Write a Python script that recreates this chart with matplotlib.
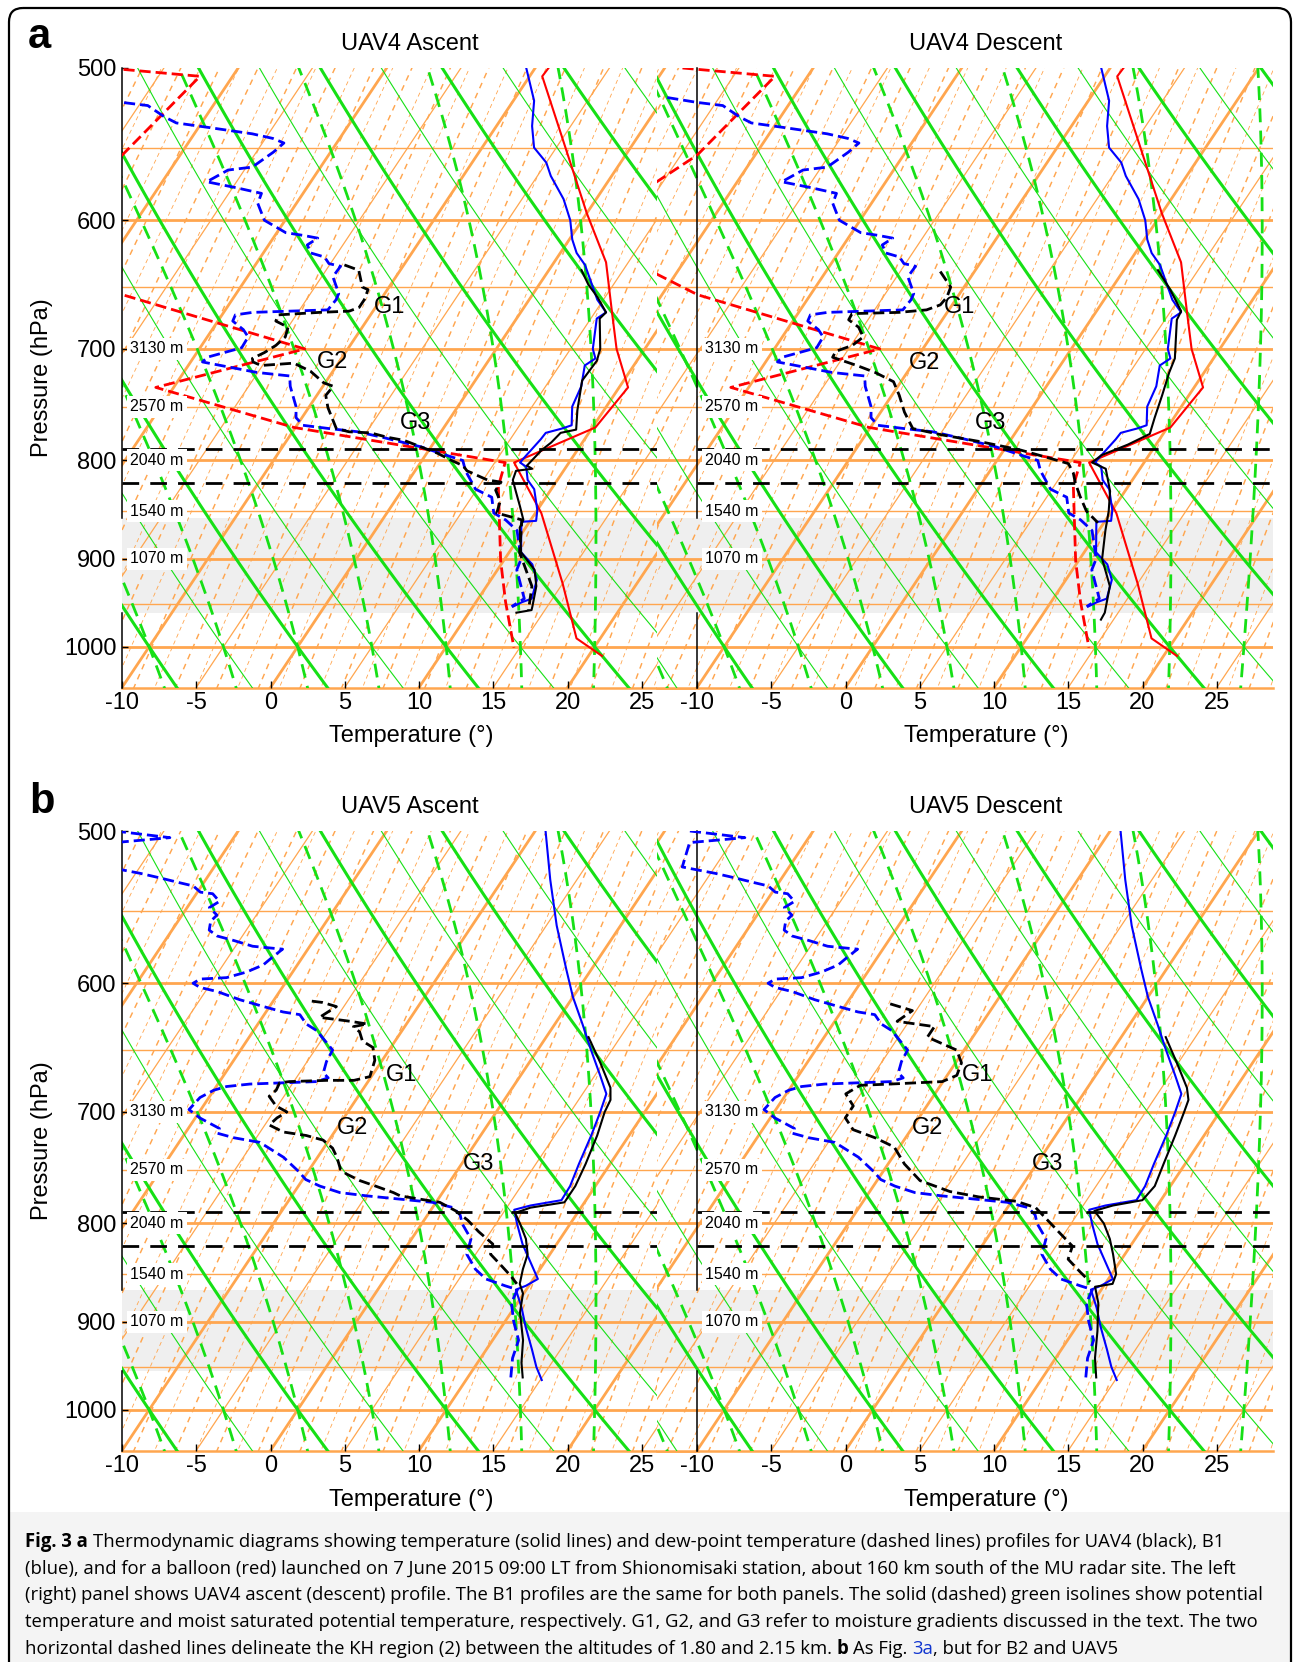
import numpy as np
import matplotlib
matplotlib.use("Agg")
import matplotlib.pyplot as plt
from matplotlib.patches import FancyBboxPatch, Rectangle

plt.rcParams['font.family'] = ['Liberation Sans', 'DejaVu Sans']

# ---------------------------------------------------------------- data
# pressure (hPa) / temperature (deg C) profiles
# B1 balloon (blue) - both UAV4 panels
b1_p = [500, 520, 536, 550, 560, 569, 585, 600, 614, 624, 633, 660, 670, 675, 700, 708, 714, 732, 750, 767,
        770, 774, 780, 795, 802, 806, 819, 828, 849, 860, 861, 893, 906, 923, 944, 948, 953]
b1_t = [-10.6, -8.6, -7.6, -6.5, -5.0, -4.1, -2.2, -0.8, 0.2, 1.1, 2.2, 4.6, 5.75, 5.4, 6.5, 7.1, 6.7, 7.4, 7.7, 8.5,
        8.0, 7.1, 7.05, 6.8, 6.7, 7.3, 8.0, 8.85, 10.0, 10.4, 9.45, 10.8, 12.1, 13.1, 13.6, 13.1, 12.7]
b1_td_p = [518, 521, 523, 530, 534, 537, 541, 544, 547, 553, 563, 565, 573, 577, 581, 588, 600, 609, 611, 613,
           618, 624, 627, 632, 634, 642, 655, 660, 668, 670, 672, 677, 684, 690, 699, 707, 711, 720, 723, 732,
           750, 760, 767, 770, 773, 779, 787, 795, 800, 810, 828, 836, 852, 859, 870, 900, 912, 944, 953]
b1_td = [-38.5, -36.3, -34.4, -32.8, -31.7, -29.25, -26.1, -24.5, -23.55, -23.85, -24.6, -26.1, -27.0, -24.8, -22.8,
         -22.6, -21.4, -19.4, -18.1, -17.0, -17.4, -16.8, -15.7, -15.1, -14.2, -14.25, -13.1, -13.0, -13.1, -18.05,
         -19.1, -19.0, -17.9, -17.25, -17.2, -19.1, -19.2, -15.05, -12.7, -12.2, -10.9, -10.4, -9.6, -7.7, -5.6,
         -3.4, -0.7, 1.4, 2.75, 3.4, 4.9, 6.35, 7.2, 8.3, 9.55, 11.1, 11.3, 13.1, 12.6]

# Shionomisaki balloon (red) - both UAV4 panels
sh_p = [500, 505, 595, 631, 670, 700, 733, 769, 802, 852, 927, 990, 1011]
sh_t = [-9.1, -9.15, 0.0, 3.5, 6.15, 8.1, 10.6, 10.2, 6.3, 10.4, 15.0, 18.4, 20.9]
sh_td_p = [500, 505, 555, 610, 656, 700, 733, 769, 802, 825, 902, 948, 1001]
sh_td = [-38.8, -32.2, -33.9, -38.4, -27.6, -12.9, -21.2, -10.1, 5.7, 6.3, 9.8, 12.0, 14.6]

# UAV4 ascent (black)
uav4a_p = [637, 648, 658, 670, 675, 700, 710, 727, 753, 771, 774, 783, 790, 800, 805, 808, 810, 819, 830, 845,
           859, 867, 893, 912, 930, 953, 957, 960]
uav4a_t = [2.2, 3.3, 4.5, 5.75, 5.6, 7.0, 7.3, 7.2, 8.2, 9.0, 8.1, 7.9, 7.6, 7.4, 7.3, 7.8, 6.8, 7.0, 7.7, 8.65,
           9.5, 9.6, 10.8, 12.5, 13.35, 14.0, 14.1, 13.2]
uav4a_td_p = [633, 637, 650, 652, 660, 666, 669, 670, 672, 677, 682, 690, 697, 703, 708, 711, 714, 712, 719, 729,
              732, 740, 751, 770, 773, 774, 778, 781, 787, 793, 800, 805, 810, 819, 821, 829, 840, 852, 859, 893,
              930, 957]
uav4a_td = [-14.0, -12.8, -11.8, -11.3, -11.1, -11.1, -11.6, -13.55, -16.2, -16.1, -15.0, -14.75, -15.0, -15.45,
            -16.0, -15.8, -15.1, -13.0, -11.5, -10.1, -9.3, -9.4, -8.7, -7.2, -6.2, -4.7, -3.4, -2.1, -0.7, 0.7,
            2.0, 3.0, 3.5, 5.3, 6.3, 6.3, 7.1, 7.4, 9.4, 10.7, 13.05, 13.9]

# UAV4 descent (black)
uav4d_p = [637, 652, 669, 676, 708, 720, 740, 760, 775, 785, 795, 802, 808, 830, 850, 870, 900, 930, 960, 968]
uav4d_t = [2.3, 4.0, 5.7, 5.8, 7.4, 7.65, 8.2, 8.7, 9.1, 8.1, 6.8, 6.5, 7.7, 9.0, 9.8, 10.45, 11.5, 13.25, 14.1, 14.15]
uav4d_td_p = [638, 650, 658, 664, 668, 670, 671, 676, 682, 690, 697, 702, 707, 714, 720, 728, 740, 755, 770, 776,
              782, 790, 797, 803, 812, 822, 835, 850, 862]
uav4d_td = [-12.3, -10.9, -10.7, -10.8, -11.5, -13.25, -16.35, -16.3, -15.3, -14.55, -14.9, -15.75, -15.7, -13.7,
            -12.15, -10.5, -9.5, -8.4, -7.1, -4.8, -2.05, 1.1, 3.2, 4.95, 5.7, 6.3, 7.2, 8.3, 9.6]

# B2 balloon (blue) - both UAV5 panels
b2_p = [500, 530, 560, 590, 610, 630, 650, 670, 685, 700, 720, 745, 765, 778, 783, 787, 800, 820, 840, 855,
        862, 866, 885, 905, 930, 950, 965]
b2_t = [-9.3, -6.8, -4.3, -1.7, 0.0, 1.85, 3.6, 5.35, 6.6, 7.0, 7.45, 7.9, 8.3, 8.35, 6.5, 5.6, 6.4, 7.7, 9.2, 10.3,
        9.8, 9.3, 10.5, 11.6, 13.05, 14.15, 15.1]
b2_td_p = [500, 504, 507, 522, 524, 526, 529, 532, 534, 538, 539, 544, 548, 553, 557, 563, 567, 570, 574, 575,
           576, 581, 587, 592, 596, 597, 600, 603, 606, 612, 617, 621, 623, 630, 635, 650, 659, 668, 672, 675,
           676, 677, 679, 682, 688, 698, 705, 711, 714, 718, 722, 726, 739, 752, 759, 765, 771, 774, 777, 780,
           785, 792, 800, 815, 830, 845, 855, 862, 866, 880, 900, 920, 940, 962]
b2_td = [-38.3, -34.3, -37.8, -37.2, -35.96, -34.7, -33.1, -31.6, -30.56, -29.8, -28.9, -28.1, -28.5, -27.65, -27.8,
         -27.5, -26.7, -25.4, -23.85, -22.8, -21.7, -22.0, -22.3, -23.1, -24.2, -25.9, -26.2, -25.55, -24.2, -22.3,
         -20.4, -18.85, -17.6, -16.75, -15.75, -13.8, -13.7, -13.4, -12.85, -13.45, -15.7, -17.85, -19.3, -20.0,
         -20.6, -20.8, -19.7, -18.5, -17.9, -17.85, -16.5, -14.55, -12.3, -10.6, -9.8, -8.55, -6.9, -4.95, -2.6,
         -0.25, 1.4, 2.2, 2.7, 4.0, 4.4, 5.65, 6.8, 8.4, 9.4, 9.6, 10.6, 11.75, 12.15, 12.9]

# UAV5 ascent (black)
uav5a_p = [640, 660, 680, 690, 700, 720, 745, 765, 780, 785, 790, 800, 815, 830, 845, 860, 870, 890, 920, 945, 962]
uav5a_t = [2.85, 4.8, 6.6, 7.15, 7.3, 7.85, 8.35, 8.65, 8.65, 6.6, 5.8, 6.6, 7.7, 8.5, 8.85, 9.3, 9.95, 10.6, 12.05,
           12.95, 13.7]
uav5a_td_p = [613, 614, 617, 625, 628, 630, 632, 636, 643, 648, 658, 671, 674, 674, 675, 676, 682, 687, 695, 700,
              705, 711, 717, 720, 724, 731, 739, 750, 754, 760, 765, 771, 774, 777, 780, 788, 797, 808, 820, 830,
              842, 852, 860]
uav5a_td = [-17.4, -16.6, -15.5, -16.15, -13.9, -12.65, -13.45, -12.8, -12.2, -11.2, -10.5, -10.1, -11.0, -12.8,
            -15.3, -15.9, -15.8, -16.0, -15.1, -14.1, -14.5, -14.7, -13.45, -11.75, -10.4, -9.4, -8.7, -7.9, -7.3,
            -6.1, -4.8, -3.3, -2.7, -1.25, 0.25, 1.7, 2.95, 4.2, 5.7, 6.0, 7.3, 8.35, 9.1]

# UAV5 descent (black)
uav5d_p = [640, 660, 680, 690, 700, 720, 745, 765, 778, 783, 788, 800, 815, 830, 850, 860, 863, 880, 910, 940, 962]
uav5d_t = [3.0, 4.9, 6.7, 7.35, 7.6, 8.05, 8.55, 8.95, 8.75, 7.0, 6.0, 7.2, 8.3, 9.2, 10.3, 10.5, 9.45, 10.4, 11.6,
           12.65, 13.6]
uav5d_td_p = [615, 620, 628, 632, 640, 650, 660, 670, 675, 677, 678, 685, 695, 705, 715, 722, 730, 745, 760, 770,
              775, 779, 785, 795, 810, 822, 835, 848, 858]
uav5d_td = [-17.05, -15.25, -15.8, -13.05, -13.05, -10.5, -9.6, -9.35, -10.05, -13.45, -15.4, -16.0, -14.95,
            -14.95, -13.9, -12.05, -10.35, -8.9, -7.1, -4.6, -2.4, 0.3, 1.9, 3.05, 4.75, 6.1, 6.4, 7.8, 8.9]

x_ticks = [-10, -5, 0, 5, 10, 15, 20, 25]
p_ticks = [500, 600, 700, 800, 900, 1000]
alt_p = [700, 750, 800, 850, 900]
alt_labels = ['3130 m', '2570 m', '2040 m', '1540 m', '1070 m']
kh_p = [789, 822]
titles = ['UAV4 Ascent', 'UAV4 Descent', 'UAV5 Ascent', 'UAV5 Descent']

# ---------------------------------------------------------------- helpers
K = 37.5
P_BOT = 1050.0


def skew(t, p):
    return np.asarray(t, float) + K * np.log(P_BOT / np.asarray(p, float))


def es_hpa(tc):
    return 6.112 * np.exp(17.67 * tc / (tc + 243.5))


def dTdp(T, p):
    es = es_hpa(T - 273.15)
    rs = 0.622 * es / (p - es)
    return (287.04 * T + 2.501e6 * rs) / (1005.7 + 2.501e6 ** 2 * rs * 0.622 / (287.04 * T * T)) / p


def moist_branch(tw, p_end, n):
    ps = np.linspace(1000.0, p_end, n)
    T = np.empty(n)
    T[0] = tw + 273.15
    for i in range(1, n):
        dp = ps[i] - ps[i - 1]
        k1 = dTdp(T[i - 1], ps[i - 1])
        k2 = dTdp(T[i - 1] + k1 * dp, ps[i])
        T[i] = T[i - 1] + 0.5 * (k1 + k2) * dp
    return ps, T - 273.15


ORANGE = '#FFA64F'
GREEN = '#16E016'
W, H = 1295, 1662
PXC = 14.85
PXL = 835.0

fig = plt.figure(figsize=(W / 100, H / 100), dpi=100)

bg = fig.add_axes([0, 0, 1, 1], zorder=-5)
bg.set_xlim(0, W)
bg.set_ylim(H, 0)
bg.axis('off')
bg.add_patch(Rectangle((9, 1512), 1282, 200, facecolor='#F4F4F4', edgecolor='none'))
bg.add_patch(FancyBboxPatch((9, 8), 1282, 1700, boxstyle='round,pad=0,rounding_size=14',
                            fill=False, lw=1.6, ec='black'))


def draw_background(ax):
    pp = np.geomspace(1065, 490, 80)
    for p in range(550, 1001, 50):
        ax.axhline(p, color=ORANGE, lw=2.0 if p % 100 == 0 else 1.0, zorder=1.2)
    ax.axhline(1050, color=ORANGE, lw=1.8, zorder=1.2, clip_on=False)
    # mixing-ratio lines (dashed)
    for i, td0 in enumerate(np.arange(-40, 36, 1.4)):
        e0 = es_hpa(td0)
        w = 0.622 * e0 / (P_BOT - e0)
        e = w * pp / (0.622 + w)
        L = np.log(e / 6.112)
        td = 243.5 * L / (17.67 - L)
        if i % 2 == 0:
            ax.plot(skew(td, pp), pp, color=ORANGE, lw=1.05, ls=(0, (4, 3.5)), zorder=1.1)
        else:
            ax.plot(skew(td, pp), pp, color=ORANGE, lw=0.6, ls=(0, (5, 4)), zorder=1.1)
    # isotherms
    for t in range(-110, 45, 5):
        ax.plot(skew([t, t], [1065, 490]), [1065, 490], color=ORANGE,
                lw=2.0 if t % 10 == 0 else 0.9, zorder=1.3)
    # dry adiabats
    for th in range(-40, 95, 5):
        T = (th + 273.15) * (pp / 1000.0) ** 0.2857 - 273.15
        ax.plot(skew(T, pp), pp, color=GREEN, lw=2.2 if th % 10 == 0 else 0.8, zorder=1.5)
    # moist adiabats
    for tw in range(-30, 36, 5):
        pu, tu = moist_branch(tw, 490.0, 260)
        pdn, tdn = moist_branch(tw, 1065.0, 30)
        p = np.concatenate([pdn[::-1], pu[1:]])
        t = np.concatenate([tdn[::-1], tu[1:]])
        ax.plot(skew(t, p), p, color=GREEN, lw=2.0, ls=(0, (5, 3)), zorder=1.6)


def add_panel(x_left_px, xmin, y_top_px, band, left_labels, profiles, glabels, xmax=28.8):
    x0 = x_left_px
    x1 = x_left_px + (xmax - xmin) * PXC
    y1 = y_top_px + PXL * np.log(P_BOT / 500.0)
    ax = fig.add_axes([x0 / W, 1 - y1 / H, (x1 - x0) / W, (y1 - y_top_px) / H])
    ax.set_facecolor('white')
    ax.set_yscale('log')
    ax.set_ylim(P_BOT, 500)
    ax.set_xlim(xmin, xmax)
    for s in ax.spines.values():
        s.set_visible(False)
    draw_background(ax)
    ax.axhspan(band[0], band[1], facecolor='#EFEFEF', edgecolor='none', zorder=0.8)
    ax.plot([-10, -10], [500, band[0]], color='black', lw=1.1, zorder=3, clip_on=False)
    ax.plot([-10, -10], [band[1], P_BOT], color='black', lw=1.1, zorder=3, clip_on=False)
    for p, t, color, dashed in profiles:
        if dashed:
            ax.plot(skew(t, p), p, color=color, lw=2.0, ls=(0, (4, 1.8)), zorder=4)
        else:
            ax.plot(skew(t, p), p, color=color, lw=1.5, zorder=4)
    for p in kh_p:
        ax.plot([-10, xmax], [p, p], color='black', lw=2.0, ls=(0, (6, 4)), zorder=4.5)
    for p, lab in zip(alt_p, alt_labels):
        ax.text(-9.45, p, lab, fontsize=11.5, ha='left', va='center', zorder=6,
                bbox=dict(facecolor='white', edgecolor='none', pad=2.5))
    for lab, (gx, gp) in zip(['G1', 'G2', 'G3'], glabels):
        ax.text(gx, gp, lab, fontsize=17, ha='center', va='center', zorder=6)
    ax.set_xticks(x_ticks)
    ax.set_xticklabels([str(v) for v in x_ticks], fontsize=17)
    ax.tick_params(axis='x', direction='in', length=5, width=1, color='black', pad=3)
    ax.yaxis.set_minor_locator(matplotlib.ticker.NullLocator())
    if left_labels:
        ax.set_yticks(p_ticks)
        ax.set_yticklabels([str(v) for v in p_ticks], fontsize=17)
        ax.tick_params(axis='y', direction='in', length=4, width=1, color='black', pad=4)
    else:
        ax.set_yticks([])
    return ax


XL, XR = 122.0, 697.0 - 2.7 * PXC
YA, YB = 68.0, 831.0
band_a = (857, 960)
band_b = (866, 955)

prof_a_left = [(sh_p, sh_t, 'red', False), (sh_td_p, sh_td, 'red', True),
               (b1_p, b1_t, 'blue', False), (b1_td_p, b1_td, 'blue', True),
               (uav4a_p, uav4a_t, 'black', False), (uav4a_td_p, uav4a_td, 'black', True)]
prof_a_right = [(sh_p, sh_t, 'red', False), (sh_td_p, sh_td, 'red', True),
                (b1_p, b1_t, 'blue', False), (b1_td_p, b1_td, 'blue', True),
                (uav4d_p, uav4d_t, 'black', False), (uav4d_td_p, uav4d_td, 'black', True)]
prof_b_left = [(b2_p, b2_t, 'blue', False), (b2_td_p, b2_td, 'blue', True),
               (uav5a_p, uav5a_t, 'black', False), (uav5a_td_p, uav5a_td, 'black', True)]
prof_b_right = [(b2_p, b2_t, 'blue', False), (b2_td_p, b2_td, 'blue', True),
                (uav5d_p, uav5d_t, 'black', False), (uav5d_td_p, uav5d_td, 'black', True)]

add_panel(XL, -10, YA, band_a, True, prof_a_left, [(8.0, 666), (4.2, 711), (9.8, 765)])
add_panel(XR, -12.7, YA, band_a, False, prof_a_right, [(7.7, 666), (5.3, 712), (9.8, 765)])
add_panel(XL, -10, YB, band_b, True, prof_b_left, [(8.8, 670), (5.55, 714), (14.0, 745)])
add_panel(XR, -12.7, YB, band_b, False, prof_b_right, [(8.9, 670), (5.55, 714), (13.6, 745)])

# ---------------------------------------------------------------- figure texts
FS = 17
for (cx, by), ttl in zip([(410, 50), (986, 50), (410, 813), (986, 813)], titles):
    bg.text(cx, by, ttl, fontsize=FS, ha='center', va='baseline')
bg.text(28, 48, 'a', fontsize=30, fontweight='bold', ha='left', va='baseline')
bg.text(29, 813, 'b', fontsize=30, fontweight='bold', ha='left', va='baseline')
for cy in [378, 1141]:
    bg.text(42, cy, 'Pressure (hPa)', fontsize=FS, rotation=90, ha='center', va='center')
for cx in [411, 986]:
    bg.text(cx, 736, 'Temperature (°)', fontsize=FS, ha='center', va='center')
    bg.text(cx, 1500, 'Temperature (°)', fontsize=FS, ha='center', va='center')

# ---------------------------------------------------------------- caption
CAP_FONT = 'Open Sans'
renderer = fig.canvas.get_renderer()


def text_w(s, fs, weight='normal'):
    t = bg.text(0, 0, s, fontsize=fs, fontweight=weight, family=CAP_FONT)
    w = t.get_window_extent(renderer).width
    t.remove()
    return w


cap_lines = [
    [("Fig. 3 a", 'bold', 'black', True),
     ("Thermodynamic diagrams showing temperature (solid lines) and dew-point temperature (dashed lines) "
      "profiles for UAV4 (black), B1", 'normal', 'black', False)],
    [("(blue), and for a balloon (red) launched on 7 June 2015 09:00 LT from Shionomisaki station, about 160 km "
      "south of the MU radar site. The left", 'normal', 'black', False)],
    [("(right) panel shows UAV4 ascent (descent) profile. The B1 profiles are the same for both panels. The solid "
      "(dashed) green isolines show potential", 'normal', 'black', False)],
    [("temperature and moist saturated potential temperature, respectively. G1, G2, and G3 refer to moisture "
      "gradients discussed in the text. The two", 'normal', 'black', False)],
    [("horizontal dashed lines delineate the KH region (2) between the altitudes of 1.80 and 2.15 km.",
      'normal', 'black', True),
     ("b", 'bold', 'black', True),
     ("As Fig.", 'normal', 'black', True),
     ("3a", 'normal', '#1035D0', False),
     (", but for B2 and UAV5", 'normal', 'black', False)],
]

w10 = text_w(cap_lines[2][0][0], 10)
cfs = 10 * 1237.0 / w10
sp = text_w('a a', cfs) - text_w('aa', cfs)
baselines = [1547, 1573.7, 1600.4, 1627.1, 1653.8]
for line, by in zip(cap_lines, baselines):
    x = 25.0
    for s, weight, color, space_after in line:
        t = bg.text(x, by, s, fontsize=cfs, fontweight=weight, color=color, family=CAP_FONT,
                    ha='left', va='baseline')
        x += t.get_window_extent(renderer).width
        if space_after:
            x += sp

fig.savefig('out.png', dpi=100)
